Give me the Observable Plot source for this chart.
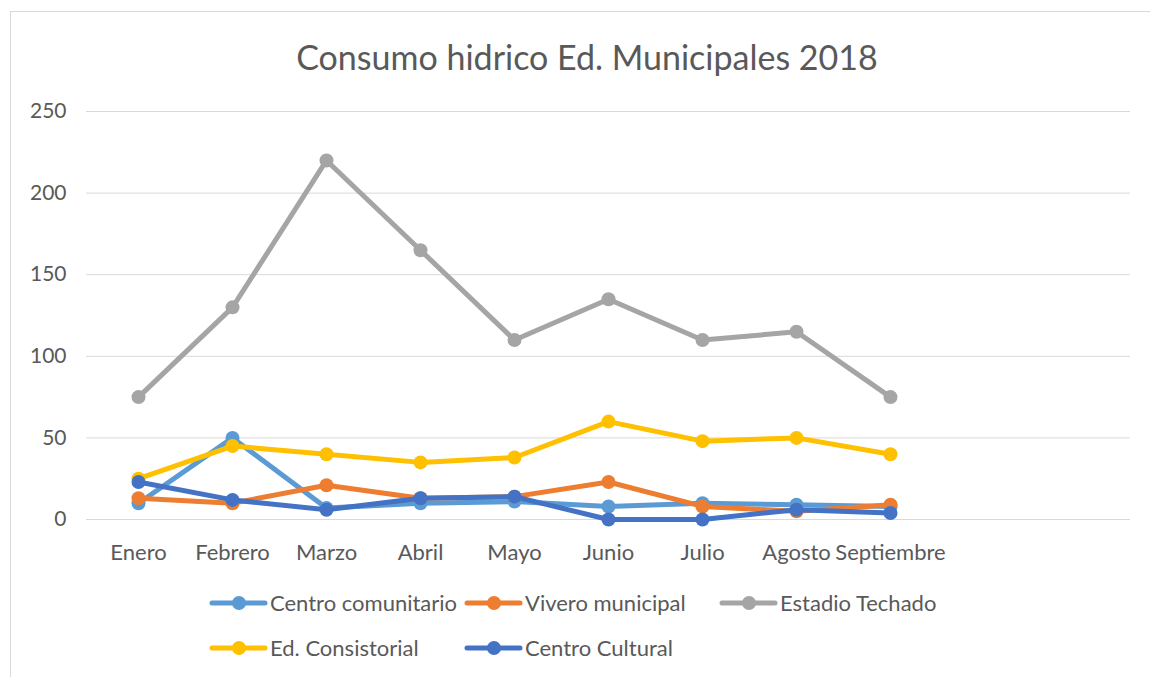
<!DOCTYPE html>
<html>
<head>
<meta charset="utf-8">
<script src="https://cdn.jsdelivr.net/npm/d3@7"></script>
<script src="https://cdn.jsdelivr.net/npm/@observablehq/plot@0.6"></script>
<style>
  html, body { margin: 0; padding: 0; background: #fff; }
  #wrap { position: relative; width: 1150px; height: 677px; overflow: hidden; font-family: Lato, "Open Sans", sans-serif; color: #595959; }
  #frame { position: absolute; left: 10px; top: 11px; width: 1160px; height: 700px; border: 1px solid #d9d9d9; box-sizing: border-box; }
  #title { position: absolute; left: 0; width: 1174px; top: 36px; text-align: center; font-size: 34px; line-height: 42px; }
  #chart { position: absolute; left: 0; top: 0; }
  .leg { position: absolute; font-size: 22px; line-height: 24px; display: flex; align-items: center; white-space: nowrap; }
  .leg svg { margin-right: 2px; }
</style>
</head>
<body>
<div id="wrap">
  <div id="frame"></div>
  <div id="chart"></div>
  <div id="title">Consumo hidrico Ed. Municipales 2018</div>
  <div id="legend"></div>
</div>
<script>
const months = ["Enero","Febrero","Marzo","Abril","Mayo","Junio","Julio","Agosto","Septiembre"];
const emptySlots = ["·1","·2"];
const yTicks = [0, 50, 100, 150, 200, 250];

const seriesNames = ["Centro comunitario","Vivero municipal","Estadio Techado","Ed. Consistorial","Centro Cultural"];
const seriesColors = ["#5B9BD5","#ED7D31","#A5A5A5","#FFC000","#4472C4"];

const centroComunitario = [10, 50, 7, 10, 11, 8, 10, 9, 8];
const viveroMunicipal   = [13, 10, 21, 13, 14, 23, 8, 5, 9];
const estadioTechado    = [75, 130, 220, 165, 110, 135, 110, 115, 75];
const edConsistorial    = [25, 45, 40, 35, 38, 60, 48, 50, 40];
const centroCultural    = [23, 12, 6, 13, 14, 0, 0, 6, 4];

const seriesValues = [centroComunitario, viveroMunicipal, estadioTechado, edConsistorial, centroCultural];

const marks = [
  Plot.ruleY(yTicks, {stroke: "#d9d9d9", strokeWidth: 1}),
  Plot.axisY({ticks: yTicks, tickSize: 0, tickPadding: 20, fontSize: 21, fill: "#595959"}),
  Plot.axisX({tickSize: 0, tickPadding: 25, fontSize: 22, fill: "#595959",
    tickFormat: d => months.includes(d) ? d : ""})
];
seriesNames.forEach((name, i) => {
  const data = months.map((m, j) => ({month: m, value: seriesValues[i][j]}));
  marks.push(Plot.line(data, {x: "month", y: "value", stroke: seriesColors[i], strokeWidth: 5, strokeLinejoin: "round", strokeLinecap: "round"}));
  marks.push(Plot.dot(data, {x: "month", y: "value", fill: seriesColors[i], r: 7}));
});

const chart = Plot.plot({
  width: 1150,
  height: 580,
  marginTop: 111,
  marginBottom: 61,
  marginLeft: 86,
  marginRight: 20,
  style: {fontFamily: "Lato, 'Open Sans', sans-serif", background: "transparent", color: "#595959"},
  x: {type: "point", domain: [...months, ...emptySlots], padding: 0.5, label: null},
  y: {domain: [0, 250], label: null},
  marks
});
document.getElementById("chart").appendChild(chart);

// legend
const legendPos = [
  {left: 208, top: 591},
  {left: 463, top: 591},
  {left: 718, top: 591},
  {left: 208, top: 636},
  {left: 463, top: 636}
];
const legend = document.getElementById("legend");
seriesNames.forEach((name, i) => {
  const el = document.createElement("div");
  el.className = "leg";
  el.style.left = legendPos[i].left + "px";
  el.style.top = legendPos[i].top + "px";
  const c = seriesColors[i];
  el.innerHTML = `<svg width="60" height="20"><line x1="4" y1="10" x2="57" y2="10" stroke="${c}" stroke-width="5" stroke-linecap="round"/><circle cx="31" cy="10" r="7" fill="${c}"/></svg><span>${name}</span>`;
  legend.appendChild(el);
});
</script>
</body>
</html>
